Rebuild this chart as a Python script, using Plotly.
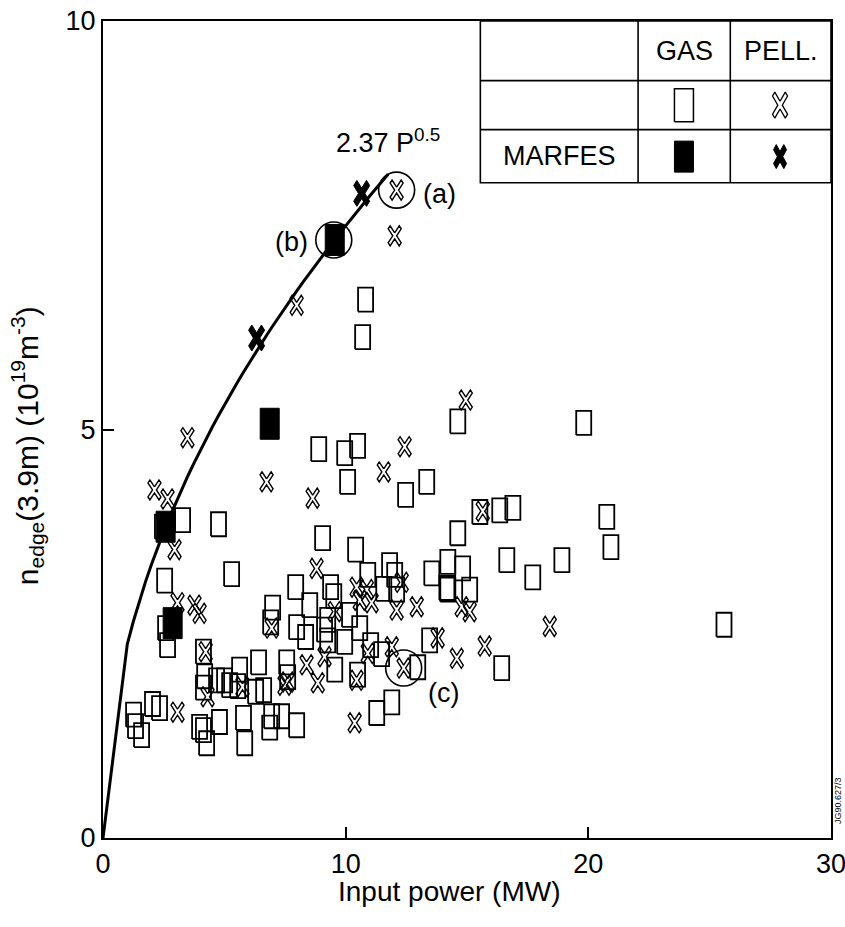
import numpy as np
import plotly.graph_objects as go

# Edge density versus input power
# Gas-fuelled discharges (open rectangles)
gas_p = [10.82, 10.70, 14.62, 19.81, 8.89, 9.96, 10.49, 10.08, 12.47, 13.34,
         4.76, 3.28, 2.45, 9.05, 10.41, 14.62, 15.53, 16.35, 16.89, 20.76,
         20.93, 16.64, 17.71, 18.91, 25.59, 16.43, 2.54, 5.30, 2.66, 2.58,
         1.26, 1.34, 1.59, 2.04, 2.33, 4.14, 4.19, 4.14, 3.98, 4.14,
         4.27, 4.68, 5.01, 5.22, 4.80, 5.55, 5.79, 5.84, 6.41, 6.29,
         6.62, 6.95, 6.87, 7.57, 7.36, 7.94, 8.52, 7.98, 8.35, 9.26,
         9.26, 9.38, 9.51, 9.96, 9.55, 10.49, 10.16, 10.91, 10.58, 11.03,
         11.48, 11.81, 11.57, 12.02, 12.10, 13.46, 13.55, 14.21, 14.21, 14.17,
         14.82, 15.11, 11.28, 11.90, 6.99, 6.91, 7.61, 7.98, 9.13, 12.97,
         5.63]
gas_n = [6.59, 6.13, 5.10, 5.08, 4.76, 4.71, 4.80, 4.36, 4.20, 4.36,
         3.84, 3.89, 3.81, 3.67, 3.53, 3.73, 3.99, 4.01, 4.04, 3.93,
         3.56, 3.40, 3.19, 3.40, 2.61, 2.08, 3.15, 3.23, 2.36, 2.57,
         1.51, 1.37, 1.26, 1.64, 1.59, 2.28, 1.98, 1.84, 1.36, 1.32,
         1.16, 1.93, 1.93, 1.87, 1.42, 1.86, 1.47, 1.16, 2.15, 1.79,
         1.81, 1.49, 1.35, 2.15, 1.49, 3.07, 2.85, 2.58, 2.46, 2.67,
         2.42, 3.07, 2.96, 2.40, 2.06, 2.00, 2.73, 3.22, 2.57, 2.36,
         2.25, 3.34, 3.05, 3.22, 3.04, 2.42, 3.24, 3.38, 3.04, 3.06,
         3.30, 3.04, 1.53, 1.66, 2.82, 2.64, 1.97, 1.38, 2.55, 2.09,
         2.06]

# Gas-fuelled discharges with MARFEs (filled rectangles)
gas_marfe_p = [9.55, 6.87, 2.58, 2.87]
gas_marfe_n = [7.32, 5.07, 3.81, 2.63]

# Pellet-fuelled discharges (open crosses)
pell_p = [12.10, 12.02, 7.98, 3.48, 14.95, 12.43, 11.57, 6.74, 8.64, 2.12,
          2.66, 2.95, 8.80, 12.31, 12.93, 12.10, 14.78, 15.11, 10.45, 10.87,
          10.58, 11.07, 13.79, 14.58, 15.73, 18.41, 15.65, 12.39, 10.37, 8.39,
          8.85, 10.45, 7.61, 11.90, 10.91, 9.13, 3.07, 4.23, 4.31, 6.95,
          7.48, 5.75, 3.07, 3.77, 3.98, 9.55]
pell_n = [7.93, 7.37, 6.52, 4.90, 5.36, 4.79, 4.48, 4.36, 4.16, 4.26,
          4.15, 3.53, 3.30, 3.13, 2.83, 2.79, 2.83, 2.77, 3.07, 3.04,
          2.91, 2.88, 2.45, 2.20, 2.35, 2.59, 4.00, 2.08, 1.41, 2.12,
          1.90, 1.93, 1.91, 2.34, 2.26, 2.22, 1.54, 2.28, 1.73, 2.57,
          1.87, 1.85, 2.88, 2.85, 2.75, 2.77]

# Pellet-fuelled discharges with MARFEs (bold crosses)
pell_marfe_p = [10.66, 6.33]
pell_marfe_n = [7.89, 6.12]

# Highlighted discharges (a), (b), (c)
ring_p = [12.10, 9.51, 12.39]
ring_n = [7.93, 7.32, 2.08]

# Density limit fit n = 2.37 P^0.5
fit_coef = 2.37
fit_exp = 0.5
fit_pmax = 11.75

# Symbol key table: column edges, row edges and cell symbols
key_cols = [15.55, 22.05, 25.85, 30.0]
key_rows = [10.0, 9.27, 8.67, 8.02]
key_sym_p = [23.94, 27.9]
key_sym_n = [8.97, 8.34]

FONT = "Liberation Sans, Arial, Helvetica, sans-serif"
PX_X = 728 / 30.0   # pixels per MW
PX_Y = 817 / 10.0   # pixels per 1e19 m^-3


def rect_outline(xs, ys, w_px, h_px):
    hw, hh = w_px / 2 / PX_X, h_px / 2 / PX_Y
    px, py = [], []
    for x, y in zip(xs, ys):
        px += [x - hw, x + hw, x + hw, x - hw, x - hw, None]
        py += [y - hh, y - hh, y + hh, y + hh, y - hh, None]
    return px, py


def cross_outline(xs, ys, w_px, h_px, d):
    hw, hh = w_px / 2 / PX_X, h_px / 2 / PX_Y
    shape = [(0, d), (1 - d, 1), (1, 1 - d), (d, 0), (1, -(1 - d)), (1 - d, -1),
             (0, -d), (-(1 - d), -1), (-1, -(1 - d)), (-d, 0), (-1, 1 - d),
             (-(1 - d), 1), (0, d)]
    px, py = [], []
    for x, y in zip(xs, ys):
        px += [x + sx * hw for sx, _ in shape] + [None]
        py += [y + sy * hh for _, sy in shape] + [None]
    return px, py


fig = go.Figure()

# open rectangles
rx, ry = rect_outline(gas_p, gas_n, 15, 24)
fig.add_trace(go.Scatter(x=rx, y=ry, mode="lines",
                         line=dict(color="black", width=1.8), hoverinfo="skip"))

# filled rectangles
rx, ry = rect_outline(gas_marfe_p, gas_marfe_n, 19, 31)
fig.add_trace(go.Scatter(x=rx, y=ry, mode="lines", fill="toself",
                         fillcolor="black", line=dict(color="black", width=1),
                         hoverinfo="skip"))

# open crosses
cx, cy = cross_outline(pell_p, pell_n, 13, 20, 0.3)
fig.add_trace(go.Scatter(x=cx, y=cy, mode="lines",
                         line=dict(color="black", width=1.4), hoverinfo="skip"))

# bold crosses
cx, cy = cross_outline(pell_marfe_p, pell_marfe_n, 16, 26, 0.4)
fig.add_trace(go.Scatter(x=cx, y=cy, mode="lines", fill="toself",
                         fillcolor="black", line=dict(color="black", width=1),
                         hoverinfo="skip"))

# fit curve
p_fit = np.concatenate([[0.0], np.linspace(1.0, fit_pmax, 44)])
n_fit = fit_coef * p_fit ** fit_exp
fig.add_trace(go.Scatter(x=p_fit, y=n_fit, mode="lines",
                         line=dict(color="black", width=3), hoverinfo="skip"))

# rings around highlighted discharges
fig.add_trace(go.Scatter(x=ring_p, y=ring_n, mode="markers",
                         marker=dict(symbol="circle-open", size=36, color="black",
                                     line=dict(color="black", width=1.6)),
                         hoverinfo="skip"))

# key table symbols
kx, ky = rect_outline([key_sym_p[0]], [key_sym_n[0]], 19, 33)
fig.add_trace(go.Scatter(x=kx, y=ky, mode="lines",
                         line=dict(color="black", width=1.5), hoverinfo="skip"))
kx, ky = rect_outline([key_sym_p[0]], [key_sym_n[1]], 19, 31)
fig.add_trace(go.Scatter(x=kx, y=ky, mode="lines", fill="toself", fillcolor="black",
                         line=dict(color="black", width=1), hoverinfo="skip"))
kx, ky = cross_outline([key_sym_p[1]], [key_sym_n[0]], 15, 26, 0.3)
fig.add_trace(go.Scatter(x=kx, y=ky, mode="lines",
                         line=dict(color="black", width=1.3), hoverinfo="skip"))
kx, ky = cross_outline([key_sym_p[1]], [key_sym_n[1]], 13, 24, 0.42)
fig.add_trace(go.Scatter(x=kx, y=ky, mode="lines", fill="toself", fillcolor="black",
                         line=dict(color="black", width=1), hoverinfo="skip"))

shapes = []
line_style = dict(color="black", width=1.6)
shapes.append(dict(type="rect", xref="x", yref="y", x0=key_cols[0], x1=key_cols[3],
                   y0=key_rows[3], y1=key_rows[0], line=line_style))
for xc in key_cols[1:3]:
    shapes.append(dict(type="line", xref="x", yref="y", x0=xc, x1=xc,
                       y0=key_rows[3], y1=key_rows[0], line=line_style))
for yr in key_rows[1:3]:
    shapes.append(dict(type="line", xref="x", yref="y", x0=key_cols[0], x1=key_cols[3],
                       y0=yr, y1=yr, line=line_style))

big = dict(family=FONT, size=27, color="black")
annotations = [
    dict(x=(key_cols[1] + key_cols[2]) / 2, y=(key_rows[0] + key_rows[1]) / 2,
         text="GAS", showarrow=False, font=big),
    dict(x=(key_cols[2] + key_cols[3]) / 2, y=(key_rows[0] + key_rows[1]) / 2,
         text="PELL.", showarrow=False, font=big),
    dict(x=(key_cols[0] + key_cols[1]) / 2, y=(key_rows[2] + key_rows[3]) / 2,
         text="MARFES", showarrow=False, font=big),
    dict(x=11.75, y=8.53, text="2.37 P<sup>0.5</sup>", showarrow=False, font=big),
    dict(x=13.1, y=7.88, text="(a)", showarrow=False, xanchor="left", font=big),
    dict(x=7.77, y=7.30, text="(b)", showarrow=False, font=big),
    dict(x=14.04, y=1.77, text="(c)", showarrow=False, font=big),
    dict(xref="paper", yref="paper", x=-0.104, y=0.48, xanchor="center", yanchor="middle",
         text="n<sub>edge</sub>(3.9m) (10<sup>19</sup>m<sup>-3</sup>)",
         textangle=-90, showarrow=False, font=dict(family=FONT, size=30, color="black")),
    dict(xref="paper", yref="paper", x=0.476, y=-0.066, xanchor="center", yanchor="middle",
         text="Input power (MW)", showarrow=False,
         font=dict(family=FONT, size=28, color="black")),
    dict(xref="paper", yref="paper", x=1.0105, y=0.046, xanchor="center", yanchor="middle",
         text="JG90.627/3", textangle=-90, showarrow=False,
         font=dict(family=FONT, size=9, color="black")),
]

axis_common = dict(showline=True, linecolor="black", linewidth=2.2, mirror=True,
                   ticks="inside", ticklen=11, tickwidth=1.5, tickcolor="black",
                   showgrid=False, zeroline=False, ticklabeloverflow="allow",
                   automargin=False,
                   tickfont=dict(family=FONT, size=27, color="black"))

fig.update_layout(
    width=845, height=927,
    margin=dict(l=103, r=14, t=21, b=89, autoexpand=False),
    paper_bgcolor="white", plot_bgcolor="white",
    showlegend=False,
    xaxis=dict(range=[0, 30], tickvals=[0, 10, 20, 30], **axis_common),
    yaxis=dict(range=[0, 10], tickvals=[0, 5, 10], **axis_common),
    shapes=shapes,
    annotations=annotations,
)

fig.write_html("out.html")
